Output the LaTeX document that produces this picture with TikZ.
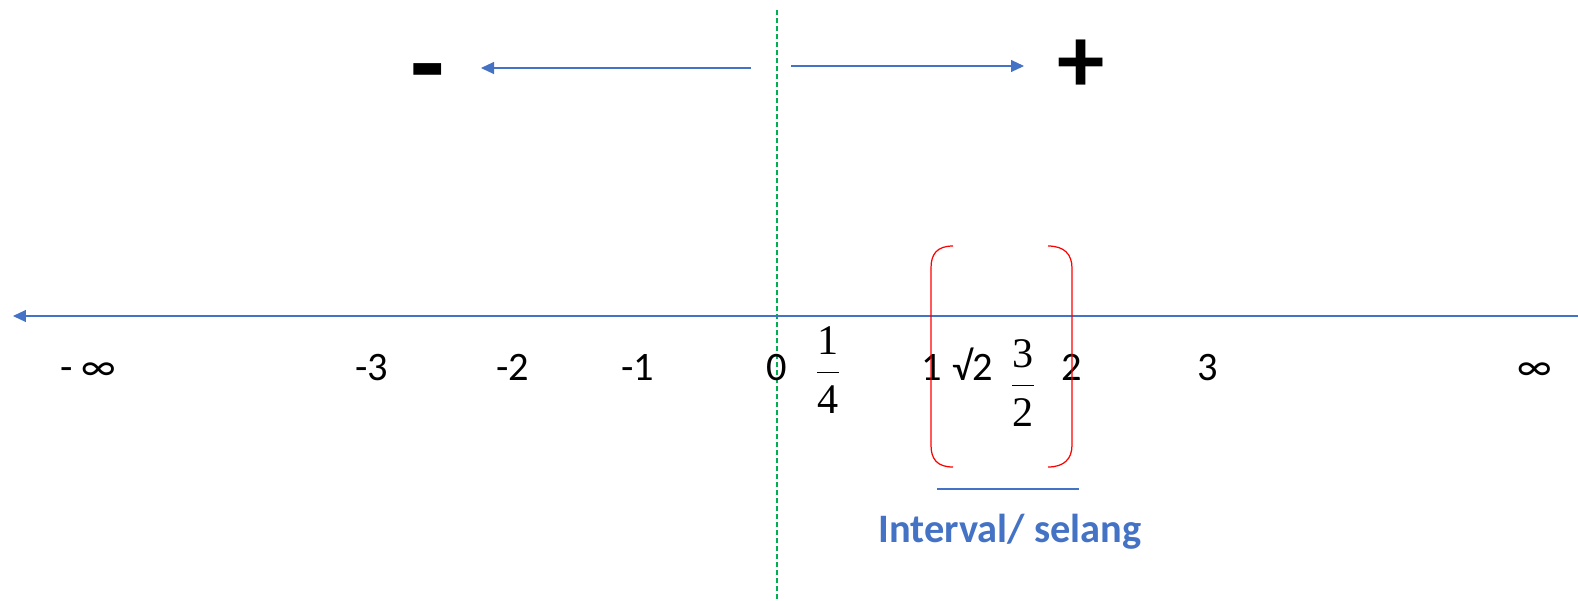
\documentclass[tikz,border=0pt]{standalone}
\usepackage{fontspec}
\setmainfont{Carlito}
\newfontfamily\fracfont{Liberation Serif}
\usetikzlibrary{arrows.meta,positioning}
\definecolor{lineblue}{HTML}{4472C4}
\definecolor{zerogreen}{HTML}{00B050}
\newcommand{\nfrac}[2]{$\displaystyle\frac{\hbox{\fracfont #1}}{\hbox{\fracfont #2}}$}

\begin{document}
\begin{tikzpicture}[
  x=0.02cm,y=-0.02cm,
  font=\fontsize{23}{27}\selectfont,
  >={Triangle[length=0.26cm,width=0.24cm]},
  num/.style={inner sep=0pt,anchor=base},
  frac/.style={inner sep=0pt,anchor=center,font=\fontsize{24}{28}\selectfont},
  sign/.style={inner sep=0pt,font=\fontsize{54}{54}\selectfont\bfseries},
  flow/.style={->,draw=lineblue,line width=0.6pt},
  brk/.style={draw=red,line width=0.7pt},
  lab/.style={font=\fontsize{23}{27}\selectfont\bfseries,text=lineblue}
]
\useasboundingbox (0,0) rectangle (1578,600);

% ---- garis nol ----
\coordinate (ztop) at (777,10);
\coordinate (zbot) at (777,600);
\draw[zerogreen,line width=0.6pt,dash pattern=on 0.1cm off 0.06cm] (ztop) -- (zbot);

% ---- arah negatif / positif ----
\node[sign,font=\fontsize{64}{64}\selectfont\bfseries] (neg) at (428,83) {-};
\node[sign] (pos) at (1081,66) {+};
\coordinate (negstart) at (751,68);
\coordinate (negend) at (481,68);
\coordinate (posstart) at (791,66);
\coordinate (posend) at (1024,66);
\draw[flow] (negstart) -- (negend);
\draw[flow] (posstart) -- (posend);

% ---- garis bilangan ----
\coordinate (axright) at (1578,316);
\coordinate (axleft) at (13,316);
\draw[flow] (axright) -- (axleft);

% label bilangan
\node[num] (minf) at (88,380) {- ∞};
\node[num] (m3) at (372,380) {-3};
\node[num] (m2) at (513,380) {-2};
\node[num] (m1) at (638,380) {-1};
\node[num] (zero) at (777,380) {0};
\node[frac] (quarter) at (828,370) {\nfrac{1}{4}};
\node[num] (one) at (932,380) {1};
\node[num] (rtwo) at (973,380) {√2};
\node[frac] (threehalf) at (1023,383) {\nfrac{3}{2}};
\node[num] (two) at (1072,380) {2};
\node[num] (three) at (1208,380) {3};
\node[num] (pinf) at (1535,380) {∞};

% ---- kurung interval ----
\draw[brk] (953,246) .. controls (937,246) and (931,254) .. (931,268)
  -- (931,445) .. controls (931,459) and (937,467) .. (953,467);
\draw[brk] (1048,246) .. controls (1064,246) and (1072,254) .. (1072,268)
  -- (1072,445) .. controls (1072,459) and (1064,467) .. (1048,467);

% ---- keterangan ----
\coordinate (ulleft) at (937,489);
\coordinate (ulright) at (1079,489);
\draw[lineblue,line width=0.6pt] (ulleft) -- (ulright);
\node[lab] (interval) at (1010,532) {Interval/ selang};

\end{tikzpicture}
\end{document}
